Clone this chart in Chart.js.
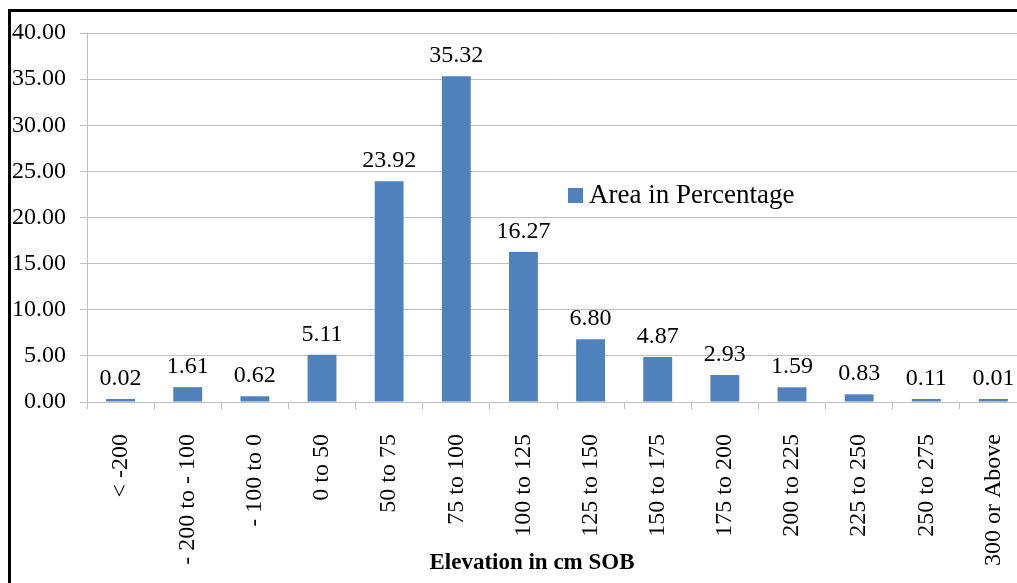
<!DOCTYPE html>
<html>
<head>
<meta charset="utf-8">
<script src="https://cdn.jsdelivr.net/npm/chart.js@4/dist/chart.umd.min.js"></script>
<style>
  html, body { margin: 0; padding: 0; background: #fff; overflow: hidden; }
  #frame { position: absolute; left: 8px; top: 9px; width: 1100px; height: 600px;
           border-top: 3px solid #000; border-left: 3px solid #000; }
  #chart { position: absolute; left: 0; top: 0; }
</style>
</head>
<body>
<div id="frame"></div>
<canvas id="chart" width="1040" height="583"></canvas>
<script>
const categories = ['< -200', '- 200 to - 100', '- 100 to 0', '0 to 50', '50 to 75', '75 to 100',
    '100 to 125', '125 to 150', '150 to 175', '175 to 200', '200 to 225', '225 to 250',
    '250 to 275', '300 or Above'];
const areaPercent = [0.02, 1.61, 0.62, 5.11, 23.92, 35.32, 16.27, 6.80, 4.87, 2.93, 1.59, 0.83, 0.11, 0.01];
const seriesName = 'Area in Percentage';
const axisTitle = 'Elevation in cm SOB';
const yMin = 0, yMax = 40, yStep = 5;

const serif = '"Liberation Serif", "Times New Roman", serif';
const barColor = '#4f81bd';
const gridColor = '#bfbfbf';

// value labels above bars, legend inside the plot and the axis title
const extras = {
    id: 'extras',
    afterDatasetsDraw(chart) {
        const ctx = chart.ctx;
        const meta = chart.getDatasetMeta(0);
        ctx.save();
        ctx.fillStyle = '#000';
        ctx.font = '24px ' + serif;
        ctx.textAlign = 'center';
        ctx.textBaseline = 'alphabetic';
        meta.data.forEach((bar, i) => {
            ctx.fillText(areaPercent[i].toFixed(2), bar.x, bar.y - 14);
        });

        // legend
        ctx.fillStyle = barColor;
        ctx.fillRect(568, 188, 15, 15);
        ctx.fillStyle = '#000';
        ctx.font = '27px ' + serif;
        ctx.textAlign = 'left';
        ctx.textBaseline = 'middle';
        ctx.fillText(chart.data.datasets[0].label, 589, 196);

        // x axis title
        ctx.font = 'bold 23px ' + serif;
        ctx.textAlign = 'center';
        ctx.fillText(axisTitle, 532, 563);
        ctx.restore();
    }
};

new Chart(document.getElementById('chart'), {
    type: 'bar',
    data: {
        labels: categories,
        datasets: [{
            label: seriesName,
            data: areaPercent,
            backgroundColor: barColor,
            borderWidth: 0,
            minBarLength: 3,
            categoryPercentage: 1,
            barPercentage: 0.43
        }]
    },
    options: {
        responsive: false,
        animation: false,
        layout: { padding: { left: 0, top: 33, right: 13, bottom: 0 } },
        plugins: {
            legend: { display: false },
            tooltip: { enabled: false }
        },
        scales: {
            x: {
                grid: { drawOnChartArea: false, drawTicks: true, tickLength: 7, color: gridColor },
                border: { color: gridColor },
                ticks: {
                    minRotation: 90, maxRotation: 90, autoSkip: false,
                    padding: 25, color: '#000',
                    font: { family: serif, size: 24 }
                },
                afterFit(scale) {
                    scale.height = 181;
                    scale.paddingLeft = 0;
                    scale.paddingRight = 0;
                }
            },
            y: {
                min: yMin, max: yMax,
                grid: { color: gridColor, tickLength: 7 },
                border: { color: gridColor },
                ticks: {
                    stepSize: yStep, padding: 14, color: '#000',
                    font: { family: serif, size: 24 },
                    callback: v => Number(v).toFixed(2)
                },
                afterFit(scale) { scale.width = 87; }
            }
        }
    },
    plugins: [extras]
});
</script>
</body>
</html>
